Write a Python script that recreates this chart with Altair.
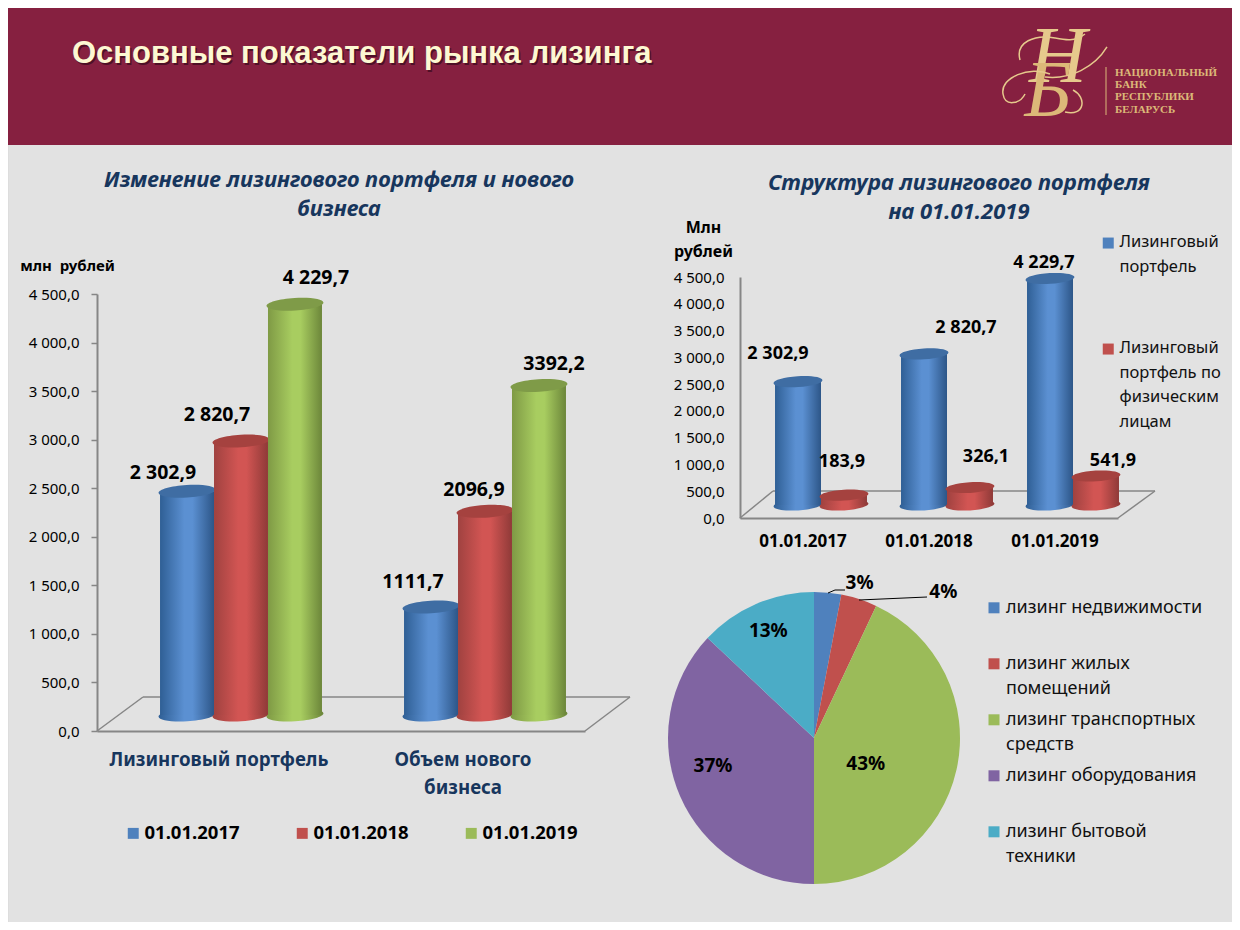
import math
import altair as alt
import pandas as pd

# ---------- data ----------
title_main = "Основные показатели рынка лизинга"
logo_lines = ["НАЦИОНАЛЬНЫЙ", "БАНК", "РЕСПУБЛИКИ", "БЕЛАРУСЬ"]
title_a = ["Изменение лизингового портфеля и нового", "бизнеса"]
title_b = ["Структура лизингового портфеля", "на 01.01.2019"]

dates = ["01.01.2017", "01.01.2018", "01.01.2019"]
groups_a = ["Лизинговый портфель", "Объем нового|бизнеса"]
portfolio = [2302.9, 2820.7, 4229.7]
new_business = [1111.7, 2096.9, 3392.2]
labels_a = ["2 302,9", "2 820,7", "4 229,7", "1111,7", "2096,9", "3392,2"]

series_b = ["Лизинговый|портфель", "Лизинговый|портфель по|физическим|лицам"]
struct_total = [2302.9, 2820.7, 4229.7]
struct_phys = [183.9, 326.1, 541.9]
labels_b = ["2 302,9", "183,9", "2 820,7", "326,1", "4 229,7", "541,9"]

pie_cats = ["лизинг недвижимости", "лизинг жилых|помещений", "лизинг транспортных|средств",
            "лизинг оборудования", "лизинг бытовой|техники"]
pie_vals = [3, 4, 43, 37, 13]

# ---------- style ----------
FONT = "Noto Sans"
NAVY = "#17365d"
AXISC = "#868686"
BLUE, RED, GREEN = "#4f81bd", "#c0504d", "#9bbb59"
PURPLE, TEAL = "#8064a2", "#4bacc6"
GRAD = {
    BLUE: ("#2f5f95", "#5b90d2", "#2d5688", "#3f6da3"),
    RED: ("#a04240", "#d25553", "#8f3a38", "#a5423f"),
    GREEN: ("#7f9a45", "#a8cd60", "#6c863a", "#7f9b48"),
}
CW, CH = 1224, 914


def grad(c):
    a, b, d, _ = GRAD[c]
    return alt.LinearGradient(gradient="linear", x1=0, x2=1, y1=0, y2=0,
                              stops=[alt.GradientStop(color=a, offset=0),
                                     alt.GradientStop(color=b, offset=0.45),
                                     alt.GradientStop(color=b, offset=0.6),
                                     alt.GradientStop(color=d, offset=1)])


def ellipse_path(ry=0.22, tilt=-3.5):
    t = math.radians(tilt)
    k = 0.5523
    pts = [(-1, 0), (-1, -k * ry), (-k, -ry), (0, -ry), (k, -ry), (1, -k * ry), (1, 0),
           (1, k * ry), (k, ry), (0, ry), (-k, ry), (-1, k * ry), (-1, 0)]
    r = [(x * math.cos(t) - y * math.sin(t), x * math.sin(t) + y * math.cos(t)) for x, y in pts]
    f = lambda p: f"{p[0]:.4f},{p[1]:.4f}"
    s = "M" + f(r[0])
    for i in range(1, 13, 3):
        s += "C" + f(r[i]) + " " + f(r[i + 1]) + " " + f(r[i + 2])
    return s + "Z"


def swash_path():
    curves = [
        [(-35, -12), (-40, -30), (-20, -38), (0, -34), (10, -32), (20, -30), (30, -38)],
        [(-10, 5), (15, 8), (40, -5), (52, -25)],
        [(-5, 2), (-25, -6), (-55, 5), (-52, 22), (-50, 35), (-35, 32), (-30, 22)],
        [(10, 40), (30, 45), (32, 25), (18, 18)],
    ]
    out = ""
    for c in curves:
        pts = [f"{x / 55:.3f},{y / 55:.3f}" for x, y in c]
        out += "M" + pts[0] + "C" + " ".join(pts[1:])
    return out


ELL = ellipse_path()
SQ = "M-1,0.6L1,0.6L1,2.6L-1,2.6Z"  # legend square aligned to the first label line
ONE = pd.DataFrame({"a": [0]})
TICK_EXPR = "replace(replace(format(datum.value, ',.1f'), ',', ' '), '.', ',')"


def rule(x1, y1, x2, y2, color=AXISC, sw=1.5):
    return alt.Chart(ONE).mark_rule(color=color, strokeWidth=sw).encode(
        x=alt.value(x1), x2=alt.value(x2), y=alt.value(y1), y2=alt.value(y2))


def txt(s, x, y, size, color, font="Liberation Sans", weight="normal", style="normal", align="left"):
    return alt.Chart(ONE).mark_text(text=s, font=font, fontSize=size, fontWeight=weight, fontStyle=style,
                                    color=color, align=align, baseline="alphabetic").encode(
        x=alt.value(x), y=alt.value(y))


def bar_panel(df, groups, series, colors, box, floor, xshift, yshift, pad, ell_w,
              label_off, axis_x, axis_y, legend, lab_size):
    x0, x1, y0, y1 = box  # left, right, bottom, top of the axes
    dom = [0, 4500]
    xs = alt.Scale(type="band", domain=groups, range=[x0 + xshift, x1 + xshift], paddingInner=0, paddingOuter=0)
    ys = alt.Scale(domain=dom, range=[y0 - yshift, y1 - yshift])
    xo = alt.Scale(type="band", domain=series, paddingInner=0, paddingOuter=pad)
    X = alt.X("group:N", scale=xs, axis=None)
    Y = alt.Y("value:Q", scale=ys, axis=None)
    Y0 = alt.Y("base:Q", scale=ys, axis=None)
    XO = alt.XOffset("series:N", scale=xo)
    XOP = alt.XOffset("series:N", scale=xo, bandPosition=0.5)
    E = ell_w ** 2

    layers = []
    layers.append(alt.Chart(df).mark_point(opacity=0).encode(
        x=alt.X("group:N", scale=alt.Scale(type="band", domain=groups, range=[x0, x1], paddingInner=0,
                                           paddingOuter=0), axis=axis_x),
        y=alt.Y("value:Q", scale=alt.Scale(domain=dom, range=[y0, y1]), axis=axis_y)))
    for f in floor:
        layers.append(rule(*f))
    # legend carrier, hidden beneath the cylinder bottoms
    layers.append(alt.Chart(df).mark_point(shape=ELL, size=E * 0.7, filled=True, opacity=1).encode(
        x=X, xOffset=XOP, y=Y0,
        color=alt.Color("series:N", scale=alt.Scale(domain=series, range=colors), legend=legend)))
    for s, c in zip(series, colors):
        d = df[df.series == s]
        layers.append(alt.Chart(d).mark_point(shape=ELL, size=E, filled=True, opacity=1, fill=grad(c)).encode(
            x=X, xOffset=XOP, y=Y0))
        layers.append(alt.Chart(d).mark_bar(fill=grad(c)).encode(x=X, xOffset=XO, y=Y, y2=alt.Y2("base:Q")))
        layers.append(alt.Chart(d).mark_point(shape=ELL, size=E, filled=True, opacity=1, fill=GRAD[c][3]).encode(
            x=X, xOffset=XOP, y=Y))
    for i, (dx, dy) in enumerate(label_off):
        d = df.iloc[[i]]
        layers.append(alt.Chart(d).mark_text(font=FONT, fontSize=lab_size, fontWeight="bold", color="#000000",
                                             dx=dx, dy=dy).encode(x=X, xOffset=XOP, y=Y, text="label:N"))
    return layers


# ---------- header ----------
GOLD = "#dcb878"
layers = [
    alt.Chart(ONE).mark_rect(color="#862040").encode(
        x=alt.value(0), x2=alt.value(CW), y=alt.value(0), y2=alt.value(137)),
    txt(title_main, 65.5, 56.5, 31, "#4f1027", weight="bold"),
    txt(title_main, 64, 55, 31, "#fdf8d2", weight="bold"),
    txt("Н", 1050, 74, 80, "#e6c98c", font="Liberation Serif", style="italic", align="center"),
    txt("Б", 1040, 108, 80, GOLD, font="Liberation Serif", style="italic", align="center"),
    alt.Chart(ONE).mark_point(shape=swash_path(), size=12100, filled=False, color="#e6c98c",
                              strokeWidth=1.5, opacity=1).encode(x=alt.value(1047), y=alt.value(64)),
    rule(1098, 59, 1098, 107, GOLD, 1),
]
for line, y in zip(logo_lines, [68, 80, 92, 105]):
    layers.append(txt(line, 1107, y, 11, GOLD, font="Liberation Serif", weight="bold"))
for line, y in zip(title_a, [179, 208]):
    layers.append(txt(line, 331, y, 22, NAVY, font=FONT, weight="bold", style="italic", align="center"))
for line, y in zip(title_b, [182, 211]):
    layers.append(txt(line, 951, y, 22, NAVY, font=FONT, weight="bold", style="italic", align="center"))

# ---------- left panel ----------
rows = []
for g, vals in zip(groups_a, [portfolio, new_business]):
    for d, v in zip(dates, vals):
        rows.append({"group": g, "series": d, "value": v, "base": 0})
df_a = pd.DataFrame(rows)
df_a["label"] = labels_a

off_a = [(-24, -18), (-24, -26), (21, -26), (-18, -25), (-11, -21), (15, -22)]
floor_a = [(89, 723, 135, 689), (135, 689, 622, 689), (622, 689, 577, 723)]
layers += bar_panel(
    df_a, groups_a, dates, [BLUE, RED, GREEN], (89, 577, 723, 286), floor_a, 22, 16, 0.76, 57, off_a,
    alt.Axis(title=None, orient="bottom", offset=-(CH - 723), domainColor=AXISC, domainWidth=2, ticks=False,
             labelAngle=0, labelFont=FONT, labelFontSize=18.7, labelFontWeight="bold", labelColor=NAVY,
             labelPadding=19, labelLineHeight=28, labelLimit=240,
             labelExpr="split(datum.label, '|')"),
    alt.Axis(title="млн\u00a0\u00a0рублей", orient="left", offset=-89, titleAngle=0, titleX=-30, titleY=265,
             titleAlign="center", titleFont=FONT, titleFontSize=15, titleFontWeight="bold", titleColor="#000000",
             values=list(range(0, 4501, 500)), grid=False, domainColor=AXISC, domainWidth=2,
             tickColor=AXISC, tickSize=6, tickWidth=1.5, labelFont=FONT, labelFontSize=15,
             labelColor="#000000", labelPadding=12, labelExpr=TICK_EXPR),
    alt.Legend(orient="none", legendX=116, legendY=816, direction="horizontal", columns=3, title=None,
               symbolType="square", symbolSize=120, symbolStrokeWidth=0, labelFont=FONT, labelFontSize=18.5,
               labelFontWeight="bold", labelColor="#000000", columnPadding=53, labelOffset=2, labelLimit=200),
    19.5,
)

# ---------- right top panel ----------
rows = []
for d, a, b in zip(dates, struct_total, struct_phys):
    rows.append({"group": d, "series": series_b[0], "value": a, "base": 0})
    rows.append({"group": d, "series": series_b[1], "value": b, "base": 0})
df_b = pd.DataFrame(rows)
df_b["label"] = labels_b

off_b = [(-20, -28), (-2, -33), (42, -26), (16, -31), (-6, -15), (17, -15)]
floor_b = [(732, 510, 765, 483), (765, 483, 1147, 483), (1147, 483, 1110, 510)]
layers += bar_panel(
    df_b, dates, series_b, [BLUE, RED], (732, 1110, 510, 269), floor_b, 18, 13, 0.37, 49, off_b,
    alt.Axis(title=None, orient="bottom", offset=-(CH - 510), domainColor=AXISC, domainWidth=2, ticks=False,
             labelAngle=0, labelFont=FONT, labelFontSize=17, labelFontWeight="bold", labelColor="#000000",
             labelPadding=15),
    alt.Axis(title=["Млн", "рублей"], orient="left", offset=-732, titleAngle=0, titleX=-37, titleY=227,
             titleAlign="center", titleFont=FONT, titleFontSize=16, titleFontWeight="bold", titleColor="#000000",
             titleLineHeight=24, values=list(range(0, 4501, 500)), grid=False, domainColor=AXISC,
             domainWidth=2, tickColor=AXISC, tickSize=0, labelFont=FONT, labelFontSize=15,
             labelColor="#000000", labelPadding=16, labelExpr=TICK_EXPR),
    alt.Legend(orient="none", legendX=1092, legendY=218, title=None, symbolType=SQ, symbolSize=121,
               symbolStrokeWidth=0, labelFont=FONT, labelFontSize=16.5, labelColor="#111111",
               labelExpr="split(datum.label, '|')", labelBaseline="top", labelOffset=3,
               gridAlign="all", rowPadding=7, labelLimit=200),
    18,
)

# ---------- pie ----------
df_p = pd.DataFrame({"cat": pie_cats, "value": pie_vals, "idx": range(5), "label": [f"{v}%" for v in pie_vals]})
TH = alt.Theta("value:Q", stack=True, scale=alt.Scale(domain=[0, 100]))
PX, PY = alt.value(806), alt.value(730)
layers.append(alt.Chart(df_p).mark_arc(radius=146).encode(
    x=PX, y=PY, theta=TH, order=alt.Order("idx:Q"),
    color=alt.Color("cat:N", scale=alt.Scale(domain=pie_cats, range=[BLUE, RED, GREEN, PURPLE, TEAL]),
                    legend=alt.Legend(orient="none", legendX=977, legendY=582, title=None, symbolType=SQ,
                                      symbolSize=121, symbolStrokeWidth=0, labelFont=FONT, labelFontSize=18,
                                      labelColor="#111111", labelOffset=3,
                                      labelExpr="split(datum.label, '|')", labelBaseline="top",
                                      gridAlign="all", rowPadding=4, labelLimit=240))))
pie_off = [(155, 31, -1), (150, 83, -3), (50, 3, 15), (110, 0, -16), (110, -2, -6)]
for i, (r, dx, dy) in enumerate(pie_off):
    layers.append(alt.Chart(df_p).transform_calculate(show=f"datum.idx == {i} ? 1 : 0").mark_text(
        font=FONT, fontSize=19, fontWeight="bold", color="#000000", radius=r, dx=dx, dy=dy).encode(
        x=PX, y=PY, theta=TH, order=alt.Order("idx:Q"), text="label:N",
        opacity=alt.Opacity("show:Q", scale=alt.Scale(domain=[0, 1], range=[0, 1]), legend=None)))
layers += [rule(820, 585, 827, 582, "#000000", 1), rule(827, 582, 837, 582, "#000000", 1),
           rule(851, 592, 919, 589, "#000000", 1)]

# ---------- page ----------
chart = alt.layer(*layers).resolve_scale(
    x="independent", y="independent", xOffset="independent", color="independent",
    theta="independent", opacity="independent"
).properties(
    width=CW, height=CH, background="#e2e2e2", padding=0,
    autosize=alt.AutoSizeParams(type="none")
).configure_view(stroke=None).configure(style={"guide-label": {"lineHeight": 24.5}})

chart.save("out.html", embed_options={"renderer": "svg", "actions": False})
